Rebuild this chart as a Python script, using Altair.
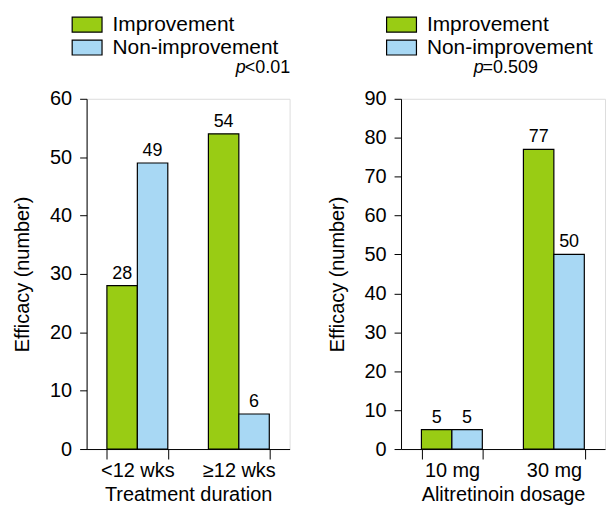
import altair as alt
import pandas as pd

groups = ["Improvement", "Non-improvement"]
colors = ["#99CC14", "#A8D8F4"]

dur_cats = ["<12 wks", "≥12 wks"]
dur_impr = [28, 54]
dur_non = [49, 6]

dose_cats = ["10 mg", "30 mg"]
dose_impr = [5, 77]
dose_non = [5, 50]

p_texts = [("p", "<0.01"), ("p", "=0.509")]
FONT = "Liberation Sans"


def make_df(cats, impr, non):
    rows = []
    for c, a, b in zip(cats, impr, non):
        rows.append({"cat": c, "group": groups[0], "value": a})
        rows.append({"cat": c, "group": groups[1], "value": b})
    return pd.DataFrame(rows)


def panel(df, cats, ymax, xtitle, ptext, px, w):
    base = alt.Chart(df)
    x = alt.X("cat:N", sort=cats, title=xtitle,
              scale=alt.Scale(paddingInner=0.4, paddingOuter=0.2),
              axis=alt.Axis(tickBand="extent", tickSize=10, labelAngle=0,
                            labelPadding=2, titlePadding=4,
                            domainColor="black", tickColor="black",
                            labelFontSize=20, titleFontSize=20,
                            labelColor="black", titleColor="black",
                            labelFont=FONT, titleFont=FONT,
                            titleFontWeight="normal"))
    y = alt.Y("value:Q", title="Efficacy (number)",
              scale=alt.Scale(domain=[0, ymax], nice=False),
              axis=alt.Axis(values=list(range(0, ymax + 1, 10)), tickSize=7,
                            grid=False, domainColor="black", tickColor="black",
                            labelOverlap=False,
                            labelPadding=8, titlePadding=17,
                            labelFontSize=20, titleFontSize=20,
                            labelColor="black", titleColor="black",
                            labelFont=FONT, titleFont=FONT,
                            titleFontWeight="normal"))
    xo = alt.XOffset("group:N", sort=groups)
    bars = base.mark_bar(stroke="black", strokeWidth=1.2).encode(
        x=x, y=y, xOffset=xo,
        color=alt.Color("group:N", sort=groups,
                        scale=alt.Scale(domain=groups, range=colors),
                        legend=alt.Legend(orient="none", legendX=-10, legendY=-85,
                                          title=None, symbolType="M-2,-1H2V1H-2Z",
                                          symbolSize=225, symbolStrokeColor="black",
                                          symbolStrokeWidth=1.2, symbolOpacity=1,
                                          labelFontSize=21, labelFont=FONT,
                                          labelColor="black", labelOffset=15,
                                          labelLimit=400,
                                          rowPadding=1, padding=0)),
    )
    labels = base.mark_text(baseline="bottom", dy=-3, fontSize=18, font=FONT,
                            color="black").encode(
        x=x, y=y, xOffset=xo,
        text="value:Q",
    )
    p1 = alt.Chart(pd.DataFrame({"t": [ptext[0]]})).mark_text(
        align="left", baseline="alphabetic", fontSize=18, font=FONT,
        fontStyle="italic", color="black").encode(
        x=alt.value(px), y=alt.value(-26), text="t:N")
    p2 = alt.Chart(pd.DataFrame({"t": [ptext[1]]})).mark_text(
        align="left", baseline="alphabetic", fontSize=18, font=FONT,
        color="black").encode(
        x=alt.value(px + 9), y=alt.value(-26), text="t:N")
    return alt.layer(bars, labels, p1, p2).properties(width=w, height=352)


left = panel(make_df(dur_cats, dur_impr, dur_non), dur_cats, 60,
             "Treatment duration", p_texts[0], 150, 204)
right = panel(make_df(dose_cats, dose_impr, dose_non), dose_cats, 90,
              "Alitretinoin dosage", p_texts[1], 73, 205)

chart = alt.hconcat(left, right, spacing=35).resolve_scale(
    color="independent", y="independent", x="independent"
).properties(padding={"left": 4, "top": 4, "right": 0, "bottom": 0}).configure_view(
    strokeWidth=0
).configure(background="white")

chart.save("out.html", embed_options={"renderer": "svg", "actions": False})
